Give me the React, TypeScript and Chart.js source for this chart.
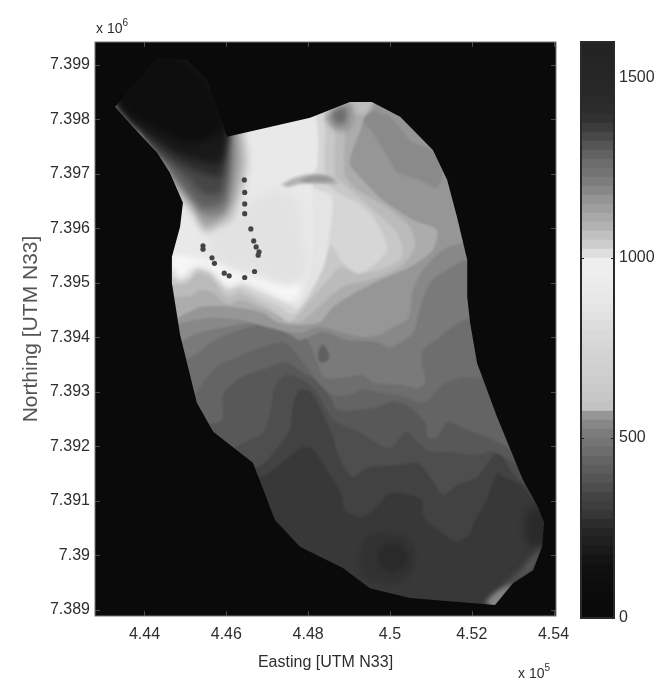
import React, { useEffect, useRef } from "react";
import { Chart, registerables } from "chart.js";

Chart.register(...registerables);

// Coordinates: easting km - 440, northing km - 7390
const eastingOrigin = 440;
const northingOrigin = 7390;
const xTicks = [4, 6, 8, 10, 12, 14];
const yTicks = [-1, 0, 1, 2, 3, 4, 5, 6, 7, 8, 9];
const barTicks = [0, 500, 1000, 1500];

const outline = [3.28,8.23, 4.31,9.15, 5.04,9.09, 5.53,8.73, 6.02,7.68, 8.05,8.03, 9.02,8.32, 9.56,8.32, 10.25,8.05, 11.05,7.44, 11.40,6.89, 11.64,6.21, 11.89,5.42, 11.89,4.74, 11.96,4.27, 12.13,3.53, 12.62,2.54, 13.25,1.39, 13.62,0.89, 13.77,0.60, 13.72,0.16, 13.50,-0.27, 13.01,-0.51, 12.57,-0.91, 10.49,-0.78, 9.51,-0.60, 8.85,-0.23, 7.80,0.16, 7.19,0.65, 6.65,1.70, 5.68,2.27, 5.28,2.80, 4.87,4.05, 4.67,5.00, 4.67,5.48, 4.87,6.03, 4.94,6.47, 4.62,7.02, 4.31,7.39, 3.72,7.86];

const contour66 = [6.46,1.57, 6.87,1.44, 7.44,1.75, 7.88,1.99, 8.12,1.94, 8.61,1.39, 8.83,1.07, 8.90,0.83, 9.34,0.71, 9.68,0.89, 9.93,1.11, 10.17,1.15, 10.78,1.02, 10.81,0.71, 11.40,0.34, 11.64,0.25, 11.96,0.41, 12.08,0.65, 12.37,1.02, 12.62,1.51, 12.77,1.44, 13.25,1.26, 13.50,1.02, 14.16,0.83];
const contour78 = [6.34,1.57, 6.87,1.66, 7.31,2.03, 7.56,2.30, 7.63,2.76, 7.80,3.04, 8.05,3.00, 8.22,2.80, 8.61,2.17, 8.71,1.88, 9.07,1.44, 9.44,1.61, 10.25,1.66, 10.66,1.70, 10.98,1.44, 11.30,1.11, 11.64,1.29, 12.13,1.44, 12.62,1.88, 13.01,1.51, 13.25,1.33, 14.16,1.02];
const contour88 = [5.97,1.84, 6.34,2.03, 6.90,2.25, 7.07,2.61, 7.19,3.09, 7.48,3.31, 7.97,3.17, 8.22,2.98, 8.61,2.49, 9.27,2.25, 9.68,2.06, 10.00,1.97, 10.25,2.16, 10.42,2.27, 10.66,2.08, 10.98,1.90, 11.47,1.90, 12.03,1.84, 12.57,1.90, 14.16,1.20];
const contour100 = [5.48,2.39, 5.90,2.49, 5.92,2.94, 6.34,3.26, 7.00,3.44, 7.44,3.55, 7.88,3.35, 8.22,3.22, 8.58,2.85, 8.71,2.67, 9.20,2.67, 9.68,2.72, 10.08,2.82, 10.49,2.72, 10.86,2.43, 10.93,2.17, 11.15,2.16, 11.40,2.45, 11.89,2.30, 12.37,2.17, 12.86,1.99, 14.16,1.39];
const contour110 = [5.11,2.82, 5.43,3.17, 5.77,3.46, 6.26,3.64, 6.90,3.83, 7.44,3.90, 7.92,3.50, 8.29,3.13, 8.61,2.94, 9.02,2.94, 9.34,3.04, 9.83,2.98, 10.32,2.91, 10.74,2.80, 10.93,2.85, 11.30,3.13, 11.71,3.26, 12.13,3.26, 14.16,3.26];
const contour122 = [4.87,3.50, 5.23,3.68, 5.72,3.95, 6.34,4.14, 7.07,4.28, 7.68,4.28, 8.05,3.86, 8.22,3.53, 8.41,3.26, 8.95,3.27, 9.34,3.31, 9.59,3.17, 10.25,3.13, 10.66,3.07, 10.86,3.17, 10.78,3.53, 10.81,3.77, 11.22,4.01, 11.84,4.32, 14.16,4.32];
const contour136 = [4.82,3.86, 5.19,4.05, 5.85,4.17, 6.90,4.28, 7.56,4.05, 7.80,3.95, 8.36,4.10, 8.95,3.95, 9.68,3.92, 10.00,3.81, 10.56,4.08, 10.74,4.56, 10.98,5.00, 11.40,5.24, 11.89,5.42, 14.16,5.42];
const contour150 = [4.62,4.17, 4.99,4.28, 5.60,4.36, 6.34,4.32, 7.24,4.14, 7.80,4.08, 8.29,4.19, 8.85,4.08, 9.34,4.01, 9.76,4.05, 10.08,4.19, 10.42,4.32, 10.49,4.45, 10.56,4.87, 10.81,5.24, 11.30,5.61, 11.79,5.73, 14.16,5.73];

const band172 = [4.50,4.28, 4.87,4.38, 5.36,4.56, 6.16,4.56, 6.90,4.45, 7.24,4.28, 7.80,4.23, 8.29,4.28, 8.61,4.56, 9.27,4.87, 9.93,5.11, 10.49,5.29, 11.05,5.61, 11.15,5.97, 10.56,6.16, 9.83,6.52, 9.34,6.89, 9.02,7.20, 9.32,7.90, 9.46,8.54, 4.13,8.54, 4.13,4.28];
const band187 = [4.50,4.69, 4.75,4.74, 5.11,4.76, 5.36,4.87, 5.65,4.83, 6.04,4.61, 6.34,4.69, 6.87,4.54, 7.31,4.39, 7.80,4.28, 8.36,4.63, 8.85,4.93, 9.51,5.05, 10.25,5.29, 10.61,5.66, 10.49,6.03, 9.93,6.39, 9.20,6.71, 8.90,6.98, 8.90,7.81, 8.78,8.54, 4.13,8.54, 4.13,4.69];
const band200 = [4.50,4.96, 4.70,4.96, 5.04,5.00, 5.28,5.18, 5.60,5.11, 6.02,4.74, 6.34,4.82, 6.82,4.63, 7.24,4.45, 7.56,4.28, 8.12,4.74, 8.54,5.11, 8.78,5.29, 9.20,5.18, 9.76,5.24, 10.30,5.48, 10.17,5.92, 9.59,6.34, 8.95,6.76, 8.66,6.98, 8.66,7.81, 8.54,8.54, 4.13,8.54, 4.13,4.96];
const band214 = [4.50,5.09, 5.11,5.09, 5.28,5.26, 5.60,5.18, 6.02,4.85, 6.34,4.91, 6.82,4.73, 7.24,4.58, 7.68,4.43, 8.24,5.05, 8.54,5.70, 8.85,5.37, 9.27,5.18, 9.93,5.61, 9.59,6.21, 9.20,6.47, 8.61,6.71, 8.41,6.98, 8.41,7.99, 8.29,8.54, 4.13,8.54, 4.13,5.09];
const band228 = [4.50,5.20, 5.23,5.28, 5.65,5.20, 6.04,4.91, 6.38,4.98, 6.87,4.82, 7.31,4.69, 7.75,4.54, 8.34,5.24, 8.49,5.66, 8.58,6.58, 8.12,6.76, 8.19,7.07, 8.19,7.90, 8.05,8.54, 4.13,8.54, 4.13,5.20];
const band233 = [4.50,5.28, 5.23,5.33, 5.65,5.26, 6.04,4.96, 6.38,5.04, 6.87,4.87, 7.31,4.74, 7.75,4.65, 8.10,5.39, 8.10,6.52, 8.10,6.98, 8.22,7.17, 8.22,7.86, 7.92,8.54, 4.13,8.54, 4.13,5.28];
const fringe246 = [4.67,5.33, 4.87,5.05, 5.28,5.33, 5.60,5.28, 6.04,4.96, 6.38,5.05, 6.87,4.91, 7.44,4.69, 7.73,4.73, 7.80,4.96, 7.44,4.96, 6.82,5.09, 6.34,5.20, 5.72,5.39, 5.23,5.46, 4.67,5.51];
const centre226 = [5.53,5.84, 6.09,6.21, 6.51,6.47, 7.24,6.71, 7.73,6.47, 7.88,5.73, 7.97,5.24, 7.48,5.00, 6.75,5.18, 6.16,5.28, 5.68,5.51];

const valley195 = [4.94,6.47, 5.19,6.25, 5.48,5.92, 5.80,6.01, 6.14,6.16, 6.41,6.71, 6.53,7.26, 6.41,7.90, 6.41,8.40, 4.13,8.40, 4.13,7.44];
const valley160 = [4.87,6.65, 5.19,6.39, 5.48,6.03, 5.92,6.19, 6.16,6.47, 6.29,6.89, 6.36,7.26, 6.29,7.90, 6.29,8.40, 4.13,8.40, 4.13,7.53];
const valley125 = [4.70,6.95, 5.04,6.65, 5.43,6.25, 5.92,6.28, 6.09,6.65, 6.16,7.02, 6.20,7.44, 6.16,7.90, 6.16,8.40, 4.13,8.40, 4.13,7.81];
const valley95 = [4.50,7.20, 4.94,6.76, 5.43,6.39, 5.92,6.47, 6.02,6.84, 6.07,7.20, 6.09,7.68, 6.09,8.36, 3.65,8.36];
const valley70 = [4.31,7.39, 5.04,6.95, 5.43,6.65, 5.85,6.65, 5.97,7.02, 6.02,7.31, 6.04,7.68, 6.04,8.36, 3.40,8.36];
const valley45 = [4.06,7.62, 5.04,7.13, 5.85,6.95, 5.92,7.31, 6.02,7.68, 6.02,8.73, 3.16,8.54];
const valley25 = [3.65,8.00, 4.79,7.39, 5.85,7.20, 5.97,7.57, 6.02,8.00, 6.02,9.28, 3.16,9.28];
const valley14 = [3.40,8.17, 4.31,7.81, 5.11,7.57, 5.92,7.81, 5.53,8.73, 4.87,9.13, 4.31,9.28, 3.16,8.91];

const northPatch = [9.56,8.17, 10.00,8.05, 10.56,7.57, 11.03,7.44, 11.27,7.02, 11.15,6.74, 10.74,6.89, 10.20,7.02, 9.95,7.31, 9.59,7.75, 9.34,8.00];
const topCap = [8.95,8.14, 9.07,8.36, 9.61,8.36, 9.42,8.10];
const spotOuter = [8.41,8.03, 8.66,8.21, 9.07,8.28, 9.02,7.84, 8.66,7.81];
const spotInner = [8.58,8.14, 8.90,8.21, 8.90,7.95, 8.66,7.95];
const streakOuter = [7.34,6.80, 7.61,6.91, 7.92,6.98, 8.29,7.00, 8.61,6.93, 8.73,6.82, 8.17,6.82, 7.80,6.82, 7.51,6.76];
const streakInner = [7.75,6.87, 8.05,6.95, 8.41,6.96, 8.63,6.87, 8.05,6.85];
const knob = [8.24,3.73, 8.36,3.86, 8.49,3.72, 8.49,3.59, 8.29,3.55];
const southRing = [9.27,0.01, 9.39,0.32, 9.88,0.41, 10.49,0.28, 10.61,-0.08, 10.37,-0.45, 9.76,-0.51, 9.32,-0.36];
const southCore = [9.71,0.05, 10.00,0.23, 10.37,0.10, 10.42,-0.12, 10.05,-0.30, 9.76,-0.17];
const capeDark = [13.35,0.83, 13.62,0.89, 13.87,0.60, 13.79,0.19, 13.43,0.19, 13.30,0.47];
const capeEdge = [13.01,-0.51, 13.50,-0.27, 13.77,0.16, 13.52,0.01, 13.18,-0.30, 12.81,-0.54];
const capeBright = [12.35,-0.84, 12.62,-0.65, 13.01,-0.51, 12.81,-0.76, 12.57,-1.00, 12.40,-0.93];

const stationEast = [6.44,6.45,6.45,6.45,6.60,6.67,6.73,6.80,6.78,6.69,6.45,6.07,5.95,5.71,5.65,5.43,5.43];
const stationNorth = [6.89,6.66,6.45,6.27,5.99,5.77,5.66,5.57,5.51,5.21,5.10,5.13,5.18,5.36,5.46,5.62,5.68];

// Colour bar: one grey per 25-unit band, from 0 to 1600
const barGreys = [10,10,11,12,14,16,20,26,32,36,45,55,62,68,77,85,92,100,108,116,124,135,150,195,198,202,205,208,210,212,215,218,221,225,229,232,234,236,238,238,222,205,192,178,168,158,148,135,125,115,108,98,85,72,60,50,45,42,40,39,38,37,36,35];
const barBandSize = 25;

const FONT = "'Liberation Sans', Arial, sans-serif";
const INK = "#2e2e2e";
const grey = (g: number) => `rgb(${g},${g},${g})`;

const toPts = (flat: number[]) => {
  const pts: { x: number; y: number }[] = [];
  for (let i = 0; i < flat.length; i += 2) pts.push({ x: flat[i], y: flat[i + 1] });
  return pts;
};
const closed = (flat: number[]) => {
  const pts = toPts(flat);
  return [...pts, pts[0]];
};
// everything on the north side of a west-to-east contour; the outside mask trims it
const northOf = (flat: number[]) => {
  const pts = toPts(flat);
  const first = pts[0];
  const last = pts[pts.length - 1];
  return [...pts, { x: 16, y: last.y }, { x: 16, y: 11 }, { x: 1, y: 11 }, { x: 1, y: first.y }, first];
};
const outsideMask = () => {
  const pts = toPts(outline);
  const s = pts[0];
  return [...pts, s, { x: 2, y: s.y }, { x: 2, y: -3 }, { x: 15, y: -3 }, { x: 15, y: 11 }, { x: 2, y: 11 }, { x: 2, y: s.y }, s];
};

const layer = (data: { x: number; y: number }[], g: number, soft = 0.8, tension = 0.25) => ({
  data,
  soft,
  showLine: true,
  fill: "shape",
  backgroundColor: grey(g),
  borderColor: grey(g),
  borderWidth: 0,
  pointRadius: 0,
  tension,
});

// softens each filled layer by the amount it asks for
const softLayers = {
  id: "softLayers",
  beforeDatasetsDraw(chart: any) {
    const all = chart.data.datasets;
    const s = all[all.length - 1].soft;
    chart.ctx.filter = s ? `blur(${s}px)` : "none";
  },
  afterDatasetDraw(chart: any, args: any) {
    const next = chart.data.datasets[args.index - 1];
    chart.ctx.filter = next && next.soft ? `blur(${next.soft}px)` : "none";
  },
  afterDatasetsDraw(chart: any) {
    chart.ctx.filter = "none";
  },
};

const innerTicks = (id: string, colour: string, len: number, frame: string, frameWidth: number) => ({
  id,
  afterDraw(chart: any) {
    const { ctx, chartArea: a, scales } = chart;
    ctx.save();
    ctx.strokeStyle = colour;
    ctx.lineWidth = 1;
    ctx.beginPath();
    if (scales.y) {
      for (const t of scales.y.ticks) {
        const p = Math.round(scales.y.getPixelForValue(t.value)) + 0.5;
        ctx.moveTo(a.left, p); ctx.lineTo(a.left + len, p);
        ctx.moveTo(a.right, p); ctx.lineTo(a.right - len, p);
      }
    }
    if (scales.x && scales.x.type === "linear") {
      for (const t of scales.x.ticks) {
        const p = Math.round(scales.x.getPixelForValue(t.value)) + 0.5;
        ctx.moveTo(p, a.top); ctx.lineTo(p, a.top + len);
        ctx.moveTo(p, a.bottom); ctx.lineTo(p, a.bottom - len);
      }
    }
    ctx.stroke();
    ctx.strokeStyle = frame;
    ctx.lineWidth = frameWidth;
    ctx.strokeRect(a.left, a.top, a.right - a.left, a.bottom - a.top);
    ctx.restore();
  },
});

const exponents = {
  id: "exponents",
  afterDraw(chart: any) {
    const { ctx } = chart;
    const put = (x: number, y: number, e: string) => {
      ctx.fillStyle = INK;
      ctx.textAlign = "left";
      ctx.textBaseline = "alphabetic";
      ctx.font = `14px ${FONT}`;
      ctx.fillText("x 10", x, y);
      const w = ctx.measureText("x 10").width;
      ctx.font = `10px ${FONT}`;
      ctx.fillText(e, x + w, y - 7);
    };
    ctx.save();
    put(96, 33, "6");
    put(518, 678, "5");
    ctx.restore();
  },
};

export default function App() {
  const mapRef = useRef<HTMLCanvasElement>(null);
  const barRef = useRef<HTMLCanvasElement>(null);

  useEffect(() => {
    const painted = [
      layer([{ x: 1, y: -4 }, { x: 16, y: -4 }, { x: 16, y: 11 }, { x: 1, y: 11 }, { x: 1, y: -4 }], 56, 0, 0),
      layer(closed(southRing), 50, 2, 0.4),
      layer(closed(southCore), 42, 2, 0.4),
      layer(closed(capeDark), 42, 4, 0.4),
      layer(northOf(contour66), 66),
      layer(northOf(contour78), 78),
      layer(northOf(contour88), 88),
      layer(northOf(contour100), 100),
      layer(northOf(contour110), 110),
      layer(northOf(contour122), 122),
      layer(closed(knob), 95, 1.2, 0.4),
      layer(northOf(contour136), 136, 1),
      layer(northOf(contour150), 150, 1),
      layer(closed(northPatch), 138, 1),
      layer(closed(band172), 172, 1),
      layer(closed(band187), 187, 1.5),
      layer(closed(band200), 200, 1.5),
      layer(closed(band214), 214, 1.5),
      layer(closed(band228), 228, 1.5),
      layer(closed(band233), 233, 1.5),
      layer(closed(fringe246), 246, 3),
      layer(closed(centre226), 226, 5),
      layer(closed(valley195), 195, 3),
      layer(closed(valley160), 160, 3),
      layer(closed(valley125), 125, 3),
      layer(closed(valley95), 95, 3),
      layer(closed(valley70), 70, 3),
      layer(closed(valley45), 45, 3),
      layer(closed(valley25), 25, 3),
      layer(closed(valley14), 14, 4),
      layer(closed(topCap), 190, 2),
      layer(closed(spotOuter), 150, 2.5, 0.4),
      layer(closed(spotInner), 110, 2.5, 0.4),
      layer(closed(streakOuter), 178, 1.5),
      layer(closed(streakInner), 150, 1.5),
      layer(closed(capeEdge), 90, 3),
      layer(closed(capeBright), 135, 2.5),
      layer(outsideMask(), 10, 0.5, 0),
    ];
    const stations = {
      data: stationEast.map((x, i) => ({ x, y: stationNorth[i] })),
      showLine: false,
      pointRadius: 2.6,
      pointStyle: "circle",
      backgroundColor: "#444444",
      borderWidth: 0,
    };
    // Chart.js paints the last dataset first
    const datasets = [stations, ...painted.reverse()];

    const map = new Chart(mapRef.current as HTMLCanvasElement, {
      type: "scatter",
      data: { datasets: datasets as any },
      plugins: [softLayers, innerTicks("mapTicks", "#4a4a4a", 5, "#777777", 1), exponents],
      options: {
        animation: false,
        responsive: false,
        layout: { padding: { top: 42, right: 106, left: 0, bottom: 0 } },
        plugins: { legend: { display: false }, tooltip: { enabled: false } },
        scales: {
          x: {
            type: "linear",
            min: 2.79,
            max: 14.06,
            grid: { display: false, drawTicks: false },
            border: { display: false },
            afterBuildTicks: (s: any) => { s.ticks = xTicks.map((value) => ({ value })); },
            afterFit: (s: any) => { s.height = 65; },
            ticks: {
              color: INK,
              padding: 9,
              maxRotation: 0,
              autoSkip: false,
              font: { family: FONT, size: 16 },
              callback: (v: any) => String(parseFloat(((eastingOrigin + v) / 100).toFixed(2))),
            },
            title: { display: true, text: "Easting [UTM N33]", color: INK, font: { family: FONT, size: 16 }, padding: { top: 0, bottom: 9 } },
          },
          y: {
            type: "linear",
            min: -1.11,
            max: 9.42,
            grid: { display: false, drawTicks: false },
            border: { display: false },
            afterBuildTicks: (s: any) => { s.ticks = yTicks.map((value) => ({ value })); },
            afterFit: (s: any) => { s.width = 95; },
            ticks: {
              color: INK,
              padding: 5,
              autoSkip: false,
              font: { family: FONT, size: 16 },
              callback: (v: any) => String(parseFloat(((northingOrigin + v) / 1000).toFixed(3))),
            },
            title: { display: true, text: "Northing [UTM N33]", color: "#555555", font: { family: FONT, size: 21 }, padding: { top: 19, bottom: 0 } },
          },
        },
      },
    } as any);

    const bar = new Chart(barRef.current as HTMLCanvasElement, {
      type: "bar",
      data: {
        labels: ["elevation"],
        datasets: barGreys.map((g) => ({
          data: [barBandSize],
          backgroundColor: grey(g),
          borderWidth: 0,
          barPercentage: 1,
          categoryPercentage: 1,
          stack: "bar",
        })),
      },
      plugins: [innerTicks("barTicks", "#222222", 3, "#2a2a2a", 2)],
      options: {
        animation: false,
        responsive: false,
        layout: { padding: { top: 42, left: 21, bottom: 63, right: 0 } },
        plugins: { legend: { display: false }, tooltip: { enabled: false } },
        scales: {
          x: { display: false, stacked: true },
          y: {
            position: "right",
            stacked: true,
            min: 0,
            max: 1600,
            grid: { display: false, drawTicks: false },
            border: { display: false },
            afterBuildTicks: (s: any) => { s.ticks = barTicks.map((value) => ({ value })); },
            afterFit: (s: any) => { s.width = 48; },
            ticks: { color: INK, padding: 5, autoSkip: false, font: { family: FONT, size: 16 }, callback: (v: any) => String(v) },
          },
        },
      },
    } as any);

    return () => {
      map.destroy();
      bar.destroy();
    };
  }, []);

  const blur = "blur(0.5px)";
  return (
    <div style={{ position: "absolute", left: 0, top: 0, width: 662, height: 681, background: "#fff", overflow: "hidden" }}>
      <canvas ref={mapRef} width={662} height={681} style={{ position: "absolute", left: 0, top: 0, width: 662, height: 681, filter: blur }} />
      <canvas ref={barRef} width={102} height={681} style={{ position: "absolute", left: 560, top: 0, width: 102, height: 681, filter: blur }} />
    </div>
  );
}
